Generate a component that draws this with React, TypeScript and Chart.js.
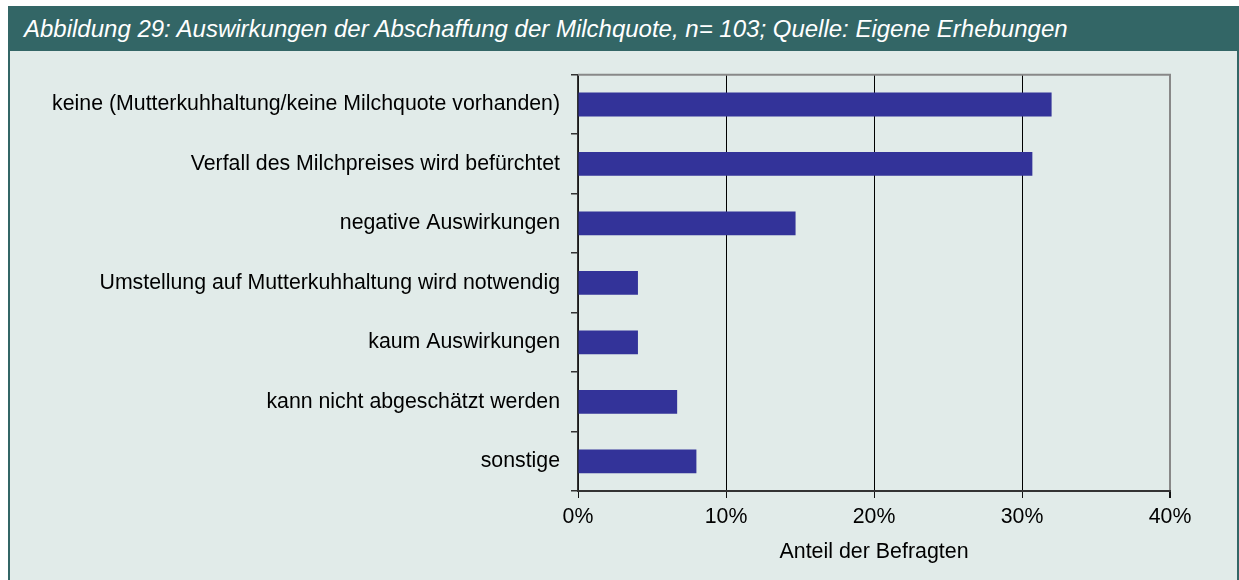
import React, { useEffect, useRef } from "react";
import { Chart, registerables } from "chart.js";

Chart.register(...registerables);

const titleText =
  "Abbildung 29: Auswirkungen der Abschaffung der Milchquote, n= 103; Quelle: Eigene Erhebungen";
const categories = [
  "keine (Mutterkuhhaltung/keine Milchquote vorhanden)",
  "Verfall des Milchpreises wird befürchtet",
  "negative Auswirkungen",
  "Umstellung auf Mutterkuhhaltung wird notwendig",
  "kaum Auswirkungen",
  "kann nicht abgeschätzt werden",
  "sonstige",
];
const values = [32.0, 30.7, 14.7, 4.05, 4.05, 6.7, 8.0];
const xTicks = [0, 10, 20, 30, 40];
const axisTitle = "Anteil der Befragten";

const FONT = "'Liberation Sans', Arial, Helvetica, sans-serif";

const topBorder = {
  id: "topBorder",
  afterDraw(chart: any) {
    const { ctx, chartArea } = chart;
    ctx.save();
    ctx.strokeStyle = "#888888";
    ctx.lineWidth = 2;
    ctx.beginPath();
    ctx.moveTo(chartArea.left, chartArea.top);
    ctx.lineTo(chartArea.right + 1, chartArea.top);
    ctx.stroke();
    ctx.restore();
  },
};

export default function App() {
  const ref = useRef<HTMLCanvasElement | null>(null);
  useEffect(() => {
    if (!ref.current) return;
    const chart = new Chart(ref.current, {
      type: "bar",
      data: {
        labels: categories,
        datasets: [
          {
            data: values,
            backgroundColor: "#333399",
            borderWidth: 0,
            barPercentage: 0.4,
            categoryPercentage: 1,
          },
        ],
      },
      plugins: [topBorder],
      options: {
        indexAxis: "y",
        animation: false,
        responsive: false,
        maintainAspectRatio: false,
        layout: { padding: { top: 18, right: 66, left: 0, bottom: 0 } },
        plugins: { legend: { display: false }, tooltip: { enabled: false } },
        scales: {
          x: {
            min: 0,
            max: 40,
            afterBuildTicks: (s: any) => {
              s.ticks = xTicks.map((v) => ({ value: v }));
            },
            afterFit: (s: any) => {
              s.height = 89;
            },
            ticks: {
              color: "#000",
              font: { family: FONT, size: 21.3 },
              padding: 6,
              callback: (v: any) => v + "%",
              maxRotation: 0,
            },
            grid: {
              color: (c: any) => (c.tick && c.tick.value === 40 ? "#888888" : "#000000"),
              lineWidth: (c: any) => (c.tick && c.tick.value === 40 ? 2 : 1),
              tickColor: "#111",
              tickLength: 7,
            },
            border: { display: true, color: "#333333", width: 2 },
            title: {
              display: true,
              text: axisTitle,
              color: "#000",
              font: { family: FONT, size: 21.4 },
              padding: { top: 0, bottom: 15 },
            },
          },
          y: {
            afterFit: (s: any) => {
              s.width = 568;
            },
            ticks: {
              color: "#000",
              font: { family: FONT, size: 21.3 },
              padding: 11,
            },
            grid: {
              offset: true,
              drawOnChartArea: false,
              tickLength: 7,
              tickColor: "#333",
              lineWidth: 1.5,
            },
            border: { display: true, color: "#333333", width: 1.5 },
          },
        },
      },
    });
    return () => chart.destroy();
  }, []);

  return (
    <div style={{ position: "absolute", left: 0, top: 0, width: 1239, height: 580, background: "#fff", overflow: "hidden" }}>
      <div
        style={{
          position: "absolute",
          left: 8,
          top: 6,
          width: 1231,
          height: 45,
          background: "#336666",
          color: "#fff",
          fontFamily: FONT,
          fontStyle: "italic",
          fontSize: 24,
          lineHeight: "45px",
          paddingLeft: 16,
          boxSizing: "border-box",
          whiteSpace: "nowrap",
        }}
      >
        {titleText}
      </div>
      <div
        style={{
          position: "absolute",
          left: 8,
          top: 51,
          width: 1231,
          height: 529,
          background: "#e1ebe9",
          borderLeft: "2px solid #336666",
          borderRight: "2px solid #336666",
          boxSizing: "border-box",
        }}
      >
        <canvas ref={ref} width={1226} height={529} style={{ display: "block", width: 1226, height: 529 }} />
      </div>
    </div>
  );
}
